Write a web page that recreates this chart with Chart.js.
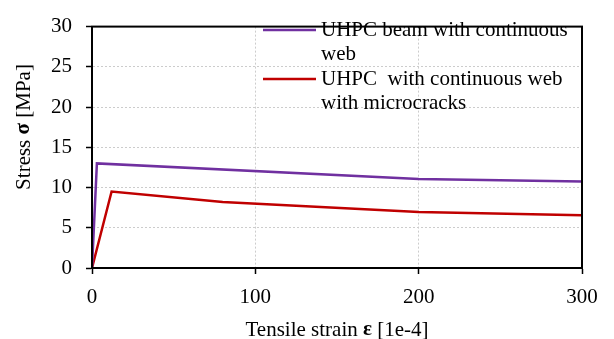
<!DOCTYPE html>
<html lang="en">
<head>
    <meta charset="UTF-8">
    <title>Stress - strain</title>
    <script src="https://cdn.jsdelivr.net/npm/chart.js"></script>
    <style>
        html, body {
            margin: 0;
            padding: 0;
            background: #ffffff;
        }
        #wrap {
            width: 614px;
            height: 339px;
        }
    </style>
</head>
<body>
    <div id="wrap"><canvas id="chart"></canvas></div>

    <script>
        // data
        const beamStrain = [0, 3, 200, 300];
        const beamStress = [0, 13.0, 11.05, 10.75];
        const crackStrain = [0, 12, 80, 200, 300];
        const crackStress = [0, 9.5, 8.2, 6.95, 6.55];

        const beamLegend = ['UHPC beam with continuous', 'web'];
        const crackLegend = ['UHPC  with continuous web', 'with microcracks'];

        const xTicks = [0, 100, 200, 300];
        const yTicks = [0, 5, 10, 15, 20, 25, 30];

        const FONT = "'Liberation Serif', 'Times New Roman', serif";
        const PURPLE = '#7030a0';
        const RED = '#c00000';

        function toPoints(xs, ys) {
            return xs.map((x, i) => ({ x: x, y: ys[i] }));
        }

        // frame, legend and axis titles (greek letters in bold)
        const extras = {
            id: 'extras',
            afterDraw(chart) {
                const c = chart.ctx;
                const a = chart.chartArea;
                c.save();
                c.strokeStyle = '#000';
                c.lineWidth = 2;
                c.strokeRect(a.left, a.top, a.right - a.left, a.bottom - a.top);

                // legend
                const entries = [
                    { color: PURPLE, lines: beamLegend, y: 30 },
                    { color: RED, lines: crackLegend, y: 79 }
                ];
                c.font = '21px ' + FONT;
                c.fillStyle = '#000';
                c.textBaseline = 'middle';
                c.textAlign = 'left';
                entries.forEach(e => {
                    c.strokeStyle = e.color;
                    c.lineWidth = 2.5;
                    c.beginPath();
                    c.moveTo(263, e.y);
                    c.lineTo(316, e.y);
                    c.stroke();
                    e.lines.forEach((t, i) => c.fillText(t, 321, e.y + i * 24.5));
                });

                // x title
                const drawParts = (parts, x, y) => {
                    let w = 0;
                    parts.forEach(p => { c.font = p[1] + FONT; w += c.measureText(p[0]).width; });
                    let cx = x - w / 2;
                    parts.forEach(p => {
                        c.font = p[1] + FONT;
                        c.fillText(p[0], cx, y);
                        cx += c.measureText(p[0]).width;
                    });
                };
                c.fillStyle = '#000';
                drawParts([['Tensile strain ', '21px '], ['ε', 'bold 21px '], [' [1e-4]', '21px ']],
                    (a.left + a.right) / 2, 330);

                c.translate(24, 127);
                c.rotate(-Math.PI / 2);
                drawParts([['Stress ', '21px '], ['σ', 'bold 21px '], [' [MPa]', '21px ']], 0, 0);
                c.restore();
            }
        };

        const ctx = document.getElementById('chart').getContext('2d');
        const chart = new Chart(ctx, {
            type: 'scatter',
            data: {
                datasets: [
                    {
                        label: beamLegend.join(' '),
                        data: toPoints(beamStrain, beamStress),
                        showLine: true,
                        borderColor: PURPLE,
                        borderWidth: 2.5,
                        pointRadius: 0,
                        tension: 0
                    },
                    {
                        label: crackLegend.join(' '),
                        data: toPoints(crackStrain, crackStress),
                        showLine: true,
                        borderColor: RED,
                        borderWidth: 2.5,
                        pointRadius: 0,
                        tension: 0
                    }
                ]
            },
            options: {
                responsive: true,
                maintainAspectRatio: false,
                animation: false,
                layout: {
                    padding: { left: 0, right: 32, top: 12, bottom: 0 }
                },
                plugins: {
                    legend: { display: false },
                    tooltip: { enabled: false }
                },
                scales: {
                    x: {
                        type: 'linear',
                        min: xTicks[0],
                        max: xTicks[xTicks.length - 1],
                        afterBuildTicks: s => { s.ticks = xTicks.map(v => ({ value: v })); },
                        afterFit: s => { s.height = 71; },
                        ticks: {
                            color: '#000',
                            padding: 11,
                            maxRotation: 0,
                            font: { family: FONT, size: 21 }
                        },
                        grid: {
                            color: '#cccccc',
                            lineWidth: 1,
                            tickColor: '#000',
                            tickWidth: 1.5,
                            tickLength: 6
                        },
                        border: { color: '#000', width: 2, dash: [2, 2] }
                    },
                    y: {
                        type: 'linear',
                        min: yTicks[0],
                        max: yTicks[yTicks.length - 1],
                        afterBuildTicks: s => { s.ticks = yTicks.map(v => ({ value: v })); },
                        afterFit: s => { s.width = 92; },
                        ticks: {
                            color: '#000',
                            padding: 14,
                            font: { family: FONT, size: 21 }
                        },
                        grid: {
                            color: '#cccccc',
                            lineWidth: 1,
                            tickColor: '#000',
                            tickWidth: 1.5,
                            tickLength: 6
                        },
                        border: { color: '#000', width: 2, dash: [2, 2] }
                    }
                }
            },
            plugins: [extras]
        });
    </script>
</body>
</html>
